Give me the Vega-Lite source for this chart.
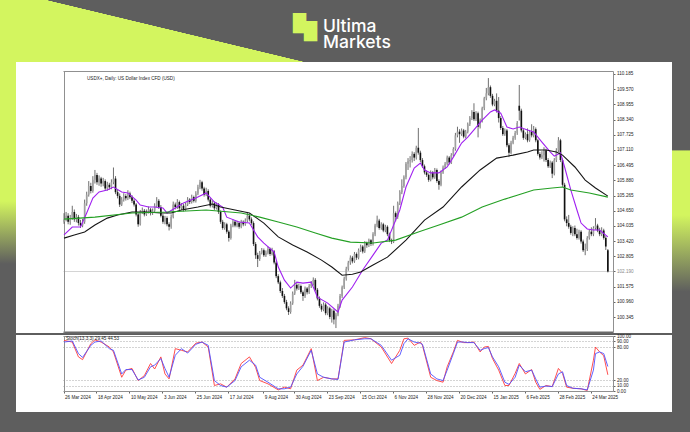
{
"$schema": "https://vega.github.io/schema/vega-lite/v6.json",
"background": "#5e5e5e",
"padding": {"left": 0, "top": 0, "right": 0, "bottom": 22},
"spacing": 0,
"config": {"view": {"stroke": null}, "concat": {"spacing": 0}, "axis": {"labelFont": "Liberation Sans", "title": null}, "title": {"font": "Liberation Sans"}},
"datasets": {
"candles": [
{"d":"2024-03-26","o":104.20,"h":104.55,"l":104.12,"c":104.30},
{"d":"2024-03-27","o":104.30,"h":104.60,"l":104.22,"c":104.45},
{"d":"2024-03-28","o":104.45,"h":104.55,"l":104.10,"c":104.20},
{"d":"2024-04-01","o":104.20,"h":104.48,"l":104.08,"c":104.35},
{"d":"2024-04-02","o":104.35,"h":104.85,"l":104.28,"c":104.60},
{"d":"2024-04-03","o":104.60,"h":104.70,"l":104.20,"c":104.30},
{"d":"2024-04-04","o":104.30,"h":104.52,"l":104.18,"c":104.40},
{"d":"2024-04-05","o":104.40,"h":104.48,"l":104.05,"c":104.15},
{"d":"2024-04-08","o":104.15,"h":104.28,"l":103.95,"c":104.05},
{"d":"2024-04-09","o":104.05,"h":104.32,"l":103.98,"c":104.20},
{"d":"2024-04-10","o":104.20,"h":105.10,"l":104.12,"c":104.95},
{"d":"2024-04-11","o":104.95,"h":105.42,"l":104.85,"c":105.30},
{"d":"2024-04-12","o":105.30,"h":105.85,"l":105.22,"c":105.65},
{"d":"2024-04-15","o":105.65,"h":105.78,"l":105.35,"c":105.45},
{"d":"2024-04-16","o":105.45,"h":106.05,"l":105.38,"c":105.90},
{"d":"2024-04-17","o":105.90,"h":106.30,"l":105.75,"c":106.10},
{"d":"2024-04-18","o":106.10,"h":106.18,"l":105.70,"c":105.80},
{"d":"2024-04-19","o":105.80,"h":106.08,"l":105.66,"c":105.95},
{"d":"2024-04-22","o":105.95,"h":106.02,"l":105.62,"c":105.75},
{"d":"2024-04-23","o":105.75,"h":105.98,"l":105.64,"c":105.85},
{"d":"2024-04-24","o":105.85,"h":105.92,"l":105.45,"c":105.55},
{"d":"2024-04-25","o":105.55,"h":105.82,"l":105.46,"c":105.70},
{"d":"2024-04-26","o":105.70,"h":105.78,"l":105.50,"c":105.60},
{"d":"2024-04-29","o":105.60,"h":105.92,"l":105.52,"c":105.80},
{"d":"2024-04-30","o":105.80,"h":106.40,"l":105.72,"c":105.95},
{"d":"2024-05-01","o":105.95,"h":106.05,"l":105.32,"c":105.40},
{"d":"2024-05-02","o":105.40,"h":105.50,"l":105.15,"c":105.25},
{"d":"2024-05-03","o":105.25,"h":105.35,"l":104.80,"c":104.90},
{"d":"2024-05-06","o":104.90,"h":105.20,"l":104.84,"c":105.10},
{"d":"2024-05-07","o":105.10,"h":105.36,"l":105.02,"c":105.25},
{"d":"2024-05-08","o":105.25,"h":105.32,"l":105.06,"c":105.15},
{"d":"2024-05-09","o":105.15,"h":105.48,"l":105.08,"c":105.35},
{"d":"2024-05-10","o":105.35,"h":105.42,"l":105.12,"c":105.20},
{"d":"2024-05-13","o":105.20,"h":105.28,"l":104.96,"c":105.05},
{"d":"2024-05-14","o":105.05,"h":105.12,"l":104.82,"c":104.90},
{"d":"2024-05-15","o":104.90,"h":104.96,"l":104.42,"c":104.50},
{"d":"2024-05-16","o":104.50,"h":104.58,"l":104.00,"c":104.10},
{"d":"2024-05-17","o":104.10,"h":104.68,"l":104.05,"c":104.60},
{"d":"2024-05-20","o":104.60,"h":104.78,"l":104.52,"c":104.65},
{"d":"2024-05-21","o":104.65,"h":104.72,"l":104.42,"c":104.50},
{"d":"2024-05-22","o":104.50,"h":104.70,"l":104.44,"c":104.60},
{"d":"2024-05-23","o":104.60,"h":104.82,"l":104.54,"c":104.70},
{"d":"2024-05-24","o":104.70,"h":104.76,"l":104.46,"c":104.55},
{"d":"2024-05-27","o":104.55,"h":104.74,"l":104.48,"c":104.65},
{"d":"2024-05-28","o":104.65,"h":104.95,"l":104.58,"c":104.85},
{"d":"2024-05-29","o":104.85,"h":105.20,"l":104.78,"c":105.05},
{"d":"2024-05-30","o":105.05,"h":105.12,"l":104.72,"c":104.80},
{"d":"2024-05-31","o":104.80,"h":104.88,"l":104.38,"c":104.45},
{"d":"2024-06-03","o":104.45,"h":104.52,"l":104.12,"c":104.20},
{"d":"2024-06-04","o":104.20,"h":104.44,"l":104.10,"c":104.35},
{"d":"2024-06-05","o":104.35,"h":104.42,"l":104.02,"c":104.10},
{"d":"2024-06-06","o":104.10,"h":104.18,"l":103.85,"c":104.00},
{"d":"2024-06-07","o":104.00,"h":104.50,"l":103.92,"c":104.40},
{"d":"2024-06-10","o":104.40,"h":105.02,"l":104.34,"c":104.90},
{"d":"2024-06-11","o":104.90,"h":104.98,"l":104.70,"c":104.80},
{"d":"2024-06-12","o":104.80,"h":105.12,"l":104.72,"c":105.00},
{"d":"2024-06-13","o":105.00,"h":105.06,"l":104.66,"c":104.75},
{"d":"2024-06-14","o":104.75,"h":104.96,"l":104.68,"c":104.85},
{"d":"2024-06-17","o":104.85,"h":104.92,"l":104.62,"c":104.70},
{"d":"2024-06-18","o":104.70,"h":104.98,"l":104.64,"c":104.90},
{"d":"2024-06-19","o":104.90,"h":105.20,"l":104.84,"c":105.10},
{"d":"2024-06-20","o":105.10,"h":105.16,"l":104.92,"c":105.00},
{"d":"2024-06-21","o":105.00,"h":105.30,"l":104.94,"c":105.20},
{"d":"2024-06-24","o":105.20,"h":105.26,"l":104.98,"c":105.05},
{"d":"2024-06-25","o":105.05,"h":105.44,"l":104.98,"c":105.35},
{"d":"2024-06-26","o":105.35,"h":105.70,"l":105.28,"c":105.60},
{"d":"2024-06-27","o":105.60,"h":105.90,"l":105.52,"c":105.80},
{"d":"2024-06-28","o":105.80,"h":105.86,"l":105.46,"c":105.55},
{"d":"2024-07-01","o":105.55,"h":105.62,"l":105.22,"c":105.30},
{"d":"2024-07-02","o":105.30,"h":105.58,"l":105.24,"c":105.45},
{"d":"2024-07-03","o":105.45,"h":105.52,"l":105.02,"c":105.10},
{"d":"2024-07-04","o":105.10,"h":105.18,"l":104.78,"c":104.85},
{"d":"2024-07-05","o":104.85,"h":105.06,"l":104.78,"c":104.95},
{"d":"2024-07-08","o":104.95,"h":105.02,"l":104.68,"c":104.75},
{"d":"2024-07-09","o":104.75,"h":104.98,"l":104.70,"c":104.90},
{"d":"2024-07-10","o":104.90,"h":104.96,"l":104.52,"c":104.60},
{"d":"2024-07-11","o":104.60,"h":104.66,"l":104.12,"c":104.20},
{"d":"2024-07-12","o":104.20,"h":104.28,"l":103.88,"c":103.95},
{"d":"2024-07-15","o":103.95,"h":104.18,"l":103.88,"c":104.10},
{"d":"2024-07-16","o":104.10,"h":104.16,"l":103.72,"c":103.80},
{"d":"2024-07-17","o":103.80,"h":103.86,"l":103.40,"c":103.55},
{"d":"2024-07-18","o":103.55,"h":104.12,"l":103.48,"c":104.05},
{"d":"2024-07-19","o":104.05,"h":104.30,"l":103.98,"c":104.20},
{"d":"2024-07-22","o":104.20,"h":104.26,"l":103.98,"c":104.05},
{"d":"2024-07-23","o":104.05,"h":104.24,"l":103.98,"c":104.15},
{"d":"2024-07-24","o":104.15,"h":104.22,"l":103.92,"c":104.00},
{"d":"2024-07-25","o":104.00,"h":104.28,"l":103.94,"c":104.20},
{"d":"2024-07-26","o":104.20,"h":104.26,"l":104.02,"c":104.10},
{"d":"2024-07-29","o":104.10,"h":104.34,"l":104.04,"c":104.25},
{"d":"2024-07-30","o":104.25,"h":104.60,"l":104.18,"c":104.45},
{"d":"2024-07-31","o":104.45,"h":104.52,"l":104.22,"c":104.30},
{"d":"2024-08-01","o":104.30,"h":104.38,"l":104.08,"c":104.15},
{"d":"2024-08-02","o":104.15,"h":104.22,"l":103.22,"c":103.30},
{"d":"2024-08-05","o":103.30,"h":103.38,"l":102.70,"c":102.85},
{"d":"2024-08-06","o":102.85,"h":102.95,"l":102.37,"c":102.70},
{"d":"2024-08-07","o":102.70,"h":103.02,"l":102.62,"c":102.95},
{"d":"2024-08-08","o":102.95,"h":103.14,"l":102.88,"c":103.05},
{"d":"2024-08-09","o":103.05,"h":103.12,"l":102.78,"c":102.85},
{"d":"2024-08-12","o":102.85,"h":103.04,"l":102.78,"c":102.95},
{"d":"2024-08-13","o":102.95,"h":103.20,"l":102.88,"c":103.10},
{"d":"2024-08-14","o":103.10,"h":103.16,"l":102.82,"c":102.90},
{"d":"2024-08-15","o":102.90,"h":103.15,"l":102.84,"c":103.00},
{"d":"2024-08-16","o":103.00,"h":103.06,"l":102.48,"c":102.55},
{"d":"2024-08-19","o":102.55,"h":102.62,"l":101.92,"c":102.00},
{"d":"2024-08-20","o":102.00,"h":102.08,"l":101.68,"c":101.75},
{"d":"2024-08-21","o":101.75,"h":101.82,"l":101.32,"c":101.40},
{"d":"2024-08-22","o":101.40,"h":101.52,"l":101.12,"c":101.20},
{"d":"2024-08-23","o":101.20,"h":101.28,"l":100.88,"c":100.95},
{"d":"2024-08-26","o":100.95,"h":101.04,"l":100.62,"c":100.70},
{"d":"2024-08-27","o":100.70,"h":100.78,"l":100.43,"c":100.55},
{"d":"2024-08-28","o":100.55,"h":100.98,"l":100.48,"c":100.90},
{"d":"2024-08-29","o":100.90,"h":101.38,"l":100.84,"c":101.30},
{"d":"2024-08-30","o":101.30,"h":101.85,"l":101.24,"c":101.65},
{"d":"2024-09-02","o":101.65,"h":101.72,"l":101.42,"c":101.50},
{"d":"2024-09-03","o":101.50,"h":101.70,"l":101.44,"c":101.60},
{"d":"2024-09-04","o":101.60,"h":101.66,"l":101.28,"c":101.35},
{"d":"2024-09-05","o":101.35,"h":101.42,"l":101.00,"c":101.20},
{"d":"2024-09-06","o":101.20,"h":101.58,"l":101.12,"c":101.50},
{"d":"2024-09-09","o":101.50,"h":101.56,"l":101.26,"c":101.35},
{"d":"2024-09-10","o":101.35,"h":101.68,"l":101.28,"c":101.60},
{"d":"2024-09-11","o":101.60,"h":101.80,"l":101.52,"c":101.70},
{"d":"2024-09-12","o":101.70,"h":101.95,"l":101.62,"c":101.85},
{"d":"2024-09-13","o":101.85,"h":101.92,"l":101.38,"c":101.45},
{"d":"2024-09-16","o":101.45,"h":101.52,"l":101.02,"c":101.10},
{"d":"2024-09-17","o":101.10,"h":101.18,"l":100.72,"c":100.80},
{"d":"2024-09-18","o":100.80,"h":100.88,"l":100.56,"c":100.65},
{"d":"2024-09-19","o":100.65,"h":100.94,"l":100.58,"c":100.85},
{"d":"2024-09-20","o":100.85,"h":100.92,"l":100.42,"c":100.50},
{"d":"2024-09-23","o":100.50,"h":100.78,"l":100.42,"c":100.70},
{"d":"2024-09-24","o":100.70,"h":100.76,"l":100.26,"c":100.35},
{"d":"2024-09-25","o":100.35,"h":100.68,"l":100.12,"c":100.60},
{"d":"2024-09-26","o":100.60,"h":100.66,"l":100.05,"c":100.25},
{"d":"2024-09-27","o":100.25,"h":100.52,"l":99.90,"c":100.45},
{"d":"2024-09-30","o":100.45,"h":100.88,"l":100.38,"c":100.80},
{"d":"2024-10-01","o":100.80,"h":101.28,"l":100.72,"c":101.20},
{"d":"2024-10-02","o":101.20,"h":101.62,"l":101.12,"c":101.55},
{"d":"2024-10-03","o":101.55,"h":101.98,"l":101.48,"c":101.90},
{"d":"2024-10-04","o":101.90,"h":102.38,"l":101.82,"c":102.30},
{"d":"2024-10-07","o":102.30,"h":102.62,"l":102.22,"c":102.55},
{"d":"2024-10-08","o":102.55,"h":102.84,"l":102.46,"c":102.75},
{"d":"2024-10-09","o":102.75,"h":102.82,"l":102.52,"c":102.60},
{"d":"2024-10-10","o":102.60,"h":102.98,"l":102.54,"c":102.90},
{"d":"2024-10-11","o":102.90,"h":102.96,"l":102.66,"c":102.75},
{"d":"2024-10-14","o":102.75,"h":103.12,"l":102.68,"c":103.05},
{"d":"2024-10-15","o":103.05,"h":103.28,"l":102.98,"c":103.20},
{"d":"2024-10-16","o":103.20,"h":103.26,"l":102.92,"c":103.00},
{"d":"2024-10-17","o":103.00,"h":103.42,"l":102.94,"c":103.35},
{"d":"2024-10-18","o":103.35,"h":103.40,"l":103.15,"c":103.25},
{"d":"2024-10-21","o":103.25,"h":103.52,"l":103.18,"c":103.45},
{"d":"2024-10-22","o":103.45,"h":103.50,"l":103.22,"c":103.30},
{"d":"2024-10-23","o":103.30,"h":103.78,"l":103.24,"c":103.70},
{"d":"2024-10-24","o":103.70,"h":104.12,"l":103.62,"c":104.05},
{"d":"2024-10-25","o":104.05,"h":104.45,"l":103.98,"c":104.25},
{"d":"2024-10-28","o":104.25,"h":104.32,"l":103.88,"c":103.95},
{"d":"2024-10-29","o":103.95,"h":104.18,"l":103.88,"c":104.10},
{"d":"2024-10-30","o":104.10,"h":104.16,"l":103.78,"c":103.85},
{"d":"2024-10-31","o":103.85,"h":104.08,"l":103.78,"c":104.00},
{"d":"2024-11-01","o":104.00,"h":104.06,"l":103.62,"c":103.70},
{"d":"2024-11-04","o":103.70,"h":103.76,"l":103.38,"c":103.45},
{"d":"2024-11-05","o":103.45,"h":103.52,"l":103.30,"c":103.40},
{"d":"2024-11-06","o":103.40,"h":104.85,"l":103.34,"c":104.55},
{"d":"2024-11-07","o":104.55,"h":104.62,"l":104.22,"c":104.40},
{"d":"2024-11-08","o":104.40,"h":105.02,"l":104.32,"c":104.95},
{"d":"2024-11-11","o":104.95,"h":105.48,"l":104.88,"c":105.40},
{"d":"2024-11-12","o":105.40,"h":105.92,"l":105.32,"c":105.65},
{"d":"2024-11-13","o":105.65,"h":106.08,"l":105.58,"c":106.00},
{"d":"2024-11-14","o":106.00,"h":106.62,"l":105.92,"c":106.55},
{"d":"2024-11-15","o":106.55,"h":106.78,"l":106.30,"c":106.65},
{"d":"2024-11-18","o":106.65,"h":106.86,"l":106.40,"c":106.70},
{"d":"2024-11-19","o":106.70,"h":107.05,"l":106.60,"c":106.95},
{"d":"2024-11-20","o":106.95,"h":107.02,"l":106.66,"c":106.80},
{"d":"2024-11-21","o":106.80,"h":107.28,"l":106.72,"c":107.20},
{"d":"2024-11-22","o":107.20,"h":108.00,"l":106.92,"c":107.00},
{"d":"2024-11-25","o":107.00,"h":107.08,"l":106.62,"c":106.70},
{"d":"2024-11-26","o":106.70,"h":106.78,"l":106.38,"c":106.45},
{"d":"2024-11-27","o":106.45,"h":106.52,"l":106.12,"c":106.20},
{"d":"2024-11-28","o":106.20,"h":106.28,"l":106.02,"c":106.10},
{"d":"2024-11-29","o":106.10,"h":106.16,"l":105.82,"c":105.90},
{"d":"2024-12-02","o":105.90,"h":106.28,"l":105.84,"c":106.20},
{"d":"2024-12-03","o":106.20,"h":106.26,"l":105.92,"c":106.00},
{"d":"2024-12-04","o":106.00,"h":106.38,"l":105.94,"c":106.30},
{"d":"2024-12-05","o":106.30,"h":106.36,"l":105.78,"c":105.85},
{"d":"2024-12-06","o":105.85,"h":105.92,"l":105.50,"c":105.70},
{"d":"2024-12-09","o":105.70,"h":106.28,"l":105.64,"c":106.20},
{"d":"2024-12-10","o":106.20,"h":106.48,"l":106.14,"c":106.40},
{"d":"2024-12-11","o":106.40,"h":106.62,"l":106.34,"c":106.55},
{"d":"2024-12-12","o":106.55,"h":106.88,"l":106.48,"c":106.80},
{"d":"2024-12-13","o":106.80,"h":106.86,"l":106.52,"c":106.60},
{"d":"2024-12-16","o":106.60,"h":106.98,"l":106.54,"c":106.90},
{"d":"2024-12-17","o":106.90,"h":107.22,"l":106.84,"c":107.15},
{"d":"2024-12-18","o":107.15,"h":107.80,"l":107.08,"c":107.70},
{"d":"2024-12-19","o":107.70,"h":108.05,"l":107.62,"c":107.85},
{"d":"2024-12-20","o":107.85,"h":107.95,"l":107.40,"c":107.75},
{"d":"2024-12-23","o":107.75,"h":107.98,"l":107.68,"c":107.90},
{"d":"2024-12-24","o":107.90,"h":107.96,"l":107.58,"c":107.65},
{"d":"2024-12-26","o":107.65,"h":107.92,"l":107.58,"c":107.85},
{"d":"2024-12-27","o":107.85,"h":108.22,"l":107.78,"c":108.15},
{"d":"2024-12-30","o":108.15,"h":108.48,"l":108.08,"c":108.40},
{"d":"2024-12-31","o":108.40,"h":108.72,"l":108.32,"c":108.65},
{"d":"2025-01-02","o":108.65,"h":109.00,"l":108.28,"c":108.35},
{"d":"2025-01-03","o":108.35,"h":108.68,"l":108.28,"c":108.60},
{"d":"2025-01-06","o":108.60,"h":108.66,"l":107.62,"c":108.05},
{"d":"2025-01-07","o":108.05,"h":108.38,"l":107.98,"c":108.30},
{"d":"2025-01-08","o":108.30,"h":108.86,"l":108.22,"c":108.80},
{"d":"2025-01-09","o":108.80,"h":109.26,"l":108.72,"c":109.20},
{"d":"2025-01-10","o":109.20,"h":109.62,"l":109.12,"c":109.40},
{"d":"2025-01-13","o":109.40,"h":110.02,"l":109.32,"c":109.65},
{"d":"2025-01-14","o":109.65,"h":109.72,"l":109.22,"c":109.30},
{"d":"2025-01-15","o":109.30,"h":109.38,"l":108.88,"c":108.95},
{"d":"2025-01-16","o":108.95,"h":109.18,"l":108.88,"c":109.10},
{"d":"2025-01-17","o":109.10,"h":109.40,"l":108.62,"c":108.70},
{"d":"2025-01-20","o":108.70,"h":109.25,"l":108.22,"c":108.40},
{"d":"2025-01-21","o":108.40,"h":108.48,"l":107.92,"c":108.00},
{"d":"2025-01-22","o":108.00,"h":108.08,"l":107.68,"c":107.75},
{"d":"2025-01-23","o":107.75,"h":107.98,"l":107.68,"c":107.90},
{"d":"2025-01-24","o":107.90,"h":107.96,"l":107.22,"c":107.30},
{"d":"2025-01-27","o":107.30,"h":107.38,"l":106.82,"c":107.00},
{"d":"2025-01-28","o":107.00,"h":107.48,"l":106.94,"c":107.40},
{"d":"2025-01-29","o":107.40,"h":107.68,"l":107.34,"c":107.60},
{"d":"2025-01-30","o":107.60,"h":107.88,"l":107.52,"c":107.80},
{"d":"2025-01-31","o":107.80,"h":108.28,"l":107.72,"c":108.20},
{"d":"2025-02-03","o":108.90,"h":109.74,"l":108.30,"c":108.70},
{"d":"2025-02-04","o":108.70,"h":108.78,"l":107.82,"c":107.90},
{"d":"2025-02-05","o":107.90,"h":107.96,"l":107.52,"c":107.60},
{"d":"2025-02-06","o":107.60,"h":107.82,"l":107.54,"c":107.75},
{"d":"2025-02-07","o":107.75,"h":107.98,"l":107.42,"c":107.50},
{"d":"2025-02-10","o":107.50,"h":107.92,"l":107.44,"c":107.85},
{"d":"2025-02-11","o":107.85,"h":108.15,"l":107.62,"c":107.70},
{"d":"2025-02-12","o":107.70,"h":108.08,"l":107.62,"c":107.95},
{"d":"2025-02-13","o":107.95,"h":108.02,"l":107.42,"c":107.50},
{"d":"2025-02-14","o":107.50,"h":107.56,"l":106.88,"c":106.95},
{"d":"2025-02-17","o":106.95,"h":107.02,"l":106.72,"c":106.80},
{"d":"2025-02-18","o":106.80,"h":107.06,"l":106.74,"c":106.90},
{"d":"2025-02-19","o":106.90,"h":107.22,"l":106.64,"c":107.10},
{"d":"2025-02-20","o":107.10,"h":107.16,"l":106.62,"c":106.70},
{"d":"2025-02-21","o":106.70,"h":106.78,"l":106.38,"c":106.45},
{"d":"2025-02-24","o":106.45,"h":106.68,"l":106.38,"c":106.60},
{"d":"2025-02-25","o":106.60,"h":106.66,"l":105.97,"c":106.15},
{"d":"2025-02-26","o":106.15,"h":106.78,"l":106.08,"c":106.70},
{"d":"2025-02-27","o":106.70,"h":107.18,"l":106.62,"c":107.10},
{"d":"2025-02-28","o":107.10,"h":107.63,"l":107.02,"c":107.50},
{"d":"2025-03-03","o":107.50,"h":107.56,"l":106.62,"c":106.70},
{"d":"2025-03-04","o":106.70,"h":106.76,"l":105.62,"c":105.70},
{"d":"2025-03-05","o":105.70,"h":105.78,"l":104.22,"c":104.30},
{"d":"2025-03-06","o":104.30,"h":104.42,"l":104.02,"c":104.15},
{"d":"2025-03-07","o":104.15,"h":104.48,"l":103.92,"c":104.00},
{"d":"2025-03-10","o":104.00,"h":104.08,"l":103.68,"c":103.75},
{"d":"2025-03-11","o":103.75,"h":104.02,"l":103.62,"c":103.95},
{"d":"2025-03-12","o":103.95,"h":104.05,"l":103.62,"c":103.70},
{"d":"2025-03-13","o":103.70,"h":103.92,"l":103.48,"c":103.55},
{"d":"2025-03-14","o":103.55,"h":103.88,"l":103.48,"c":103.80},
{"d":"2025-03-17","o":103.80,"h":103.86,"l":103.32,"c":103.40},
{"d":"2025-03-18","o":103.40,"h":103.48,"l":102.98,"c":103.05},
{"d":"2025-03-19","o":103.05,"h":103.32,"l":102.85,"c":103.10},
{"d":"2025-03-20","o":103.10,"h":103.62,"l":103.02,"c":103.55},
{"d":"2025-03-21","o":103.55,"h":103.88,"l":103.48,"c":103.80},
{"d":"2025-03-24","o":103.80,"h":103.98,"l":103.62,"c":103.70},
{"d":"2025-03-25","o":103.70,"h":104.02,"l":103.62,"c":103.95},
{"d":"2025-03-26","o":103.95,"h":104.35,"l":103.88,"c":104.05},
{"d":"2025-03-27","o":104.05,"h":104.12,"l":103.78,"c":103.85},
{"d":"2025-03-28","o":103.85,"h":103.96,"l":103.62,"c":103.70},
{"d":"2025-03-31","o":103.70,"h":103.98,"l":103.62,"c":103.85},
{"d":"2025-04-01","o":103.85,"h":103.92,"l":103.48,"c":103.55},
{"d":"2025-04-02","o":103.55,"h":103.62,"l":103.06,"c":103.20},
{"d":"2025-04-03","o":103.05,"h":103.10,"l":102.15,"c":102.19}
],
"ma": [
{"d":"2024-03-26","s":"a","v":103.67},{"d":"2024-04-02","s":"a","v":103.99},{"d":"2024-04-08","s":"a","v":103.99},{"d":"2024-04-11","s":"a","v":104.56},{"d":"2024-04-16","s":"a","v":105.16},{"d":"2024-04-19","s":"a","v":105.41},{"d":"2024-04-25","s":"a","v":105.49},{"d":"2024-04-30","s":"a","v":105.61},{"d":"2024-05-06","s":"a","v":105.41},{"d":"2024-05-09","s":"a","v":105.37},{"d":"2024-05-15","s":"a","v":105.08},{"d":"2024-05-17","s":"a","v":104.88},{"d":"2024-05-23","s":"a","v":104.80},{"d":"2024-05-28","s":"a","v":104.80},{"d":"2024-06-03","s":"a","v":104.76},{"d":"2024-06-05","s":"a","v":104.56},{"d":"2024-06-11","s":"a","v":104.76},{"d":"2024-06-17","s":"a","v":104.96},{"d":"2024-06-25","s":"a","v":105.16},{"d":"2024-07-02","s":"a","v":105.37},{"d":"2024-07-08","s":"a","v":105.00},{"d":"2024-07-12","s":"a","v":104.80},{"d":"2024-07-16","s":"a","v":104.39},{"d":"2024-07-24","s":"a","v":104.19},{"d":"2024-07-31","s":"a","v":104.15},{"d":"2024-08-06","s":"a","v":103.59},{"d":"2024-08-09","s":"a","v":103.34},{"d":"2024-08-16","s":"a","v":102.98},{"d":"2024-08-20","s":"a","v":102.37},{"d":"2024-08-23","s":"a","v":101.84},{"d":"2024-08-28","s":"a","v":101.52},{"d":"2024-09-02","s":"a","v":101.76},{"d":"2024-09-05","s":"a","v":101.72},{"d":"2024-09-11","s":"a","v":101.76},{"d":"2024-09-16","s":"a","v":101.15},{"d":"2024-09-23","s":"a","v":100.91},{"d":"2024-09-30","s":"a","v":100.55},{"d":"2024-10-02","s":"a","v":101.03},{"d":"2024-10-09","s":"a","v":101.56},{"d":"2024-10-16","s":"a","v":102.25},{"d":"2024-10-23","s":"a","v":102.85},{"d":"2024-10-29","s":"a","v":103.34},{"d":"2024-11-01","s":"a","v":103.46},{"d":"2024-11-11","s":"a","v":104.68},{"d":"2024-11-14","s":"a","v":105.61},{"d":"2024-11-20","s":"a","v":106.38},{"d":"2024-11-25","s":"a","v":106.58},{"d":"2024-11-27","s":"a","v":106.30},{"d":"2024-12-02","s":"a","v":106.18},{"d":"2024-12-06","s":"a","v":106.18},{"d":"2024-12-12","s":"a","v":106.42},{"d":"2024-12-17","s":"a","v":106.82},{"d":"2024-12-23","s":"a","v":107.39},{"d":"2024-12-27","s":"a","v":107.63},{"d":"2025-01-02","s":"a","v":107.92},{"d":"2025-01-08","s":"a","v":108.32},{"d":"2025-01-14","s":"a","v":108.65},{"d":"2025-01-16","s":"a","v":108.73},{"d":"2025-01-21","s":"a","v":108.60},{"d":"2025-01-24","s":"a","v":108.04},{"d":"2025-01-29","s":"a","v":107.96},{"d":"2025-02-03","s":"a","v":108.04},{"d":"2025-02-07","s":"a","v":107.92},{"d":"2025-02-12","s":"a","v":107.84},{"d":"2025-02-18","s":"a","v":107.43},{"d":"2025-02-24","s":"a","v":107.03},{"d":"2025-02-26","s":"a","v":106.86},{"d":"2025-03-03","s":"a","v":106.99},{"d":"2025-03-05","s":"a","v":106.42},{"d":"2025-03-10","s":"a","v":105.49},{"d":"2025-03-13","s":"a","v":104.68},{"d":"2025-03-17","s":"a","v":104.15},{"d":"2025-03-20","s":"a","v":103.91},{"d":"2025-03-25","s":"a","v":103.87},{"d":"2025-03-28","s":"a","v":103.87},{"d":"2025-04-03","s":"a","v":103.59},
{"d":"2024-03-26","s":"b","v":103.54},{"d":"2024-04-03","s":"b","v":103.67},{"d":"2024-04-10","s":"b","v":103.79},{"d":"2024-04-17","s":"b","v":104.07},{"d":"2024-04-25","s":"b","v":104.35},{"d":"2024-05-02","s":"b","v":104.48},{"d":"2024-05-13","s":"b","v":104.60},{"d":"2024-05-22","s":"b","v":104.60},{"d":"2024-05-31","s":"b","v":104.56},{"d":"2024-06-07","s":"b","v":104.56},{"d":"2024-06-14","s":"b","v":104.68},{"d":"2024-06-26","s":"b","v":104.80},{"d":"2024-07-05","s":"b","v":104.92},{"d":"2024-07-11","s":"b","v":104.80},{"d":"2024-07-22","s":"b","v":104.68},{"d":"2024-07-31","s":"b","v":104.56},{"d":"2024-08-09","s":"b","v":104.15},{"d":"2024-08-20","s":"b","v":103.59},{"d":"2024-08-29","s":"b","v":103.26},{"d":"2024-09-09","s":"b","v":102.98},{"d":"2024-09-18","s":"b","v":102.65},{"d":"2024-09-25","s":"b","v":102.37},{"d":"2024-10-02","s":"b","v":102.04},{"d":"2024-10-09","s":"b","v":102.08},{"d":"2024-10-15","s":"b","v":102.17},{"d":"2024-10-23","s":"b","v":102.45},{"d":"2024-11-01","s":"b","v":102.77},{"d":"2024-11-14","s":"b","v":103.46},{"d":"2024-11-27","s":"b","v":104.27},{"d":"2024-12-10","s":"b","v":104.80},{"d":"2024-12-23","s":"b","v":105.61},{"d":"2025-01-07","s":"b","v":106.30},{"d":"2025-01-17","s":"b","v":106.78},{"d":"2025-01-29","s":"b","v":106.90},{"d":"2025-02-07","s":"b","v":107.03},{"d":"2025-02-12","s":"b","v":107.11},{"d":"2025-02-20","s":"b","v":107.11},{"d":"2025-02-27","s":"b","v":107.03},{"d":"2025-03-04","s":"b","v":106.90},{"d":"2025-03-12","s":"b","v":106.42},{"d":"2025-03-19","s":"b","v":105.89},{"d":"2025-03-26","s":"b","v":105.57},{"d":"2025-04-03","s":"b","v":105.24},
{"d":"2024-03-26","s":"c","v":104.31},{"d":"2024-04-17","s":"c","v":104.39},{"d":"2024-05-13","s":"c","v":104.56},{"d":"2024-06-05","s":"c","v":104.60},{"d":"2024-07-02","s":"c","v":104.68},{"d":"2024-07-25","s":"c","v":104.56},{"d":"2024-08-07","s":"c","v":104.39},{"d":"2024-08-20","s":"c","v":104.19},{"d":"2024-09-02","s":"c","v":103.99},{"d":"2024-09-13","s":"c","v":103.75},{"d":"2024-09-25","s":"c","v":103.54},{"d":"2024-10-08","s":"c","v":103.38},{"d":"2024-10-23","s":"c","v":103.34},{"d":"2024-11-07","s":"c","v":103.46},{"d":"2024-11-22","s":"c","v":103.79},{"d":"2024-12-06","s":"c","v":104.07},{"d":"2024-12-23","s":"c","v":104.39},{"d":"2025-01-08","s":"c","v":104.80},{"d":"2025-01-23","s":"c","v":105.12},{"d":"2025-01-31","s":"c","v":105.28},{"d":"2025-02-12","s":"c","v":105.49},{"d":"2025-02-25","s":"c","v":105.57},{"d":"2025-03-04","s":"c","v":105.61},{"d":"2025-03-10","s":"c","v":105.49},{"d":"2025-03-21","s":"c","v":105.37},{"d":"2025-04-03","s":"c","v":105.20}
],
"st": [
{"d":"2024-03-26","K":92,"D":89},{"d":"2024-04-02","K":89,"D":91},{"d":"2024-04-05","K":62,"D":68},{"d":"2024-04-09","K":57,"D":61},{"d":"2024-04-15","K":86,"D":83},{"d":"2024-04-17","K":93,"D":89},{"d":"2024-04-22","K":89,"D":91},{"d":"2024-04-26","K":80,"D":77},{"d":"2024-04-30","K":71,"D":74},{"d":"2024-05-06","K":25,"D":31},{"d":"2024-05-08","K":38,"D":39},{"d":"2024-05-13","K":41,"D":39},{"d":"2024-05-16","K":19,"D":20},{"d":"2024-05-21","K":28,"D":25},{"d":"2024-05-24","K":50,"D":44},{"d":"2024-05-28","K":40,"D":47},{"d":"2024-05-31","K":62,"D":59},{"d":"2024-06-04","K":31,"D":41},{"d":"2024-06-06","K":22,"D":25},{"d":"2024-06-11","K":77,"D":65},{"d":"2024-06-14","K":74,"D":77},{"d":"2024-06-19","K":71,"D":69},{"d":"2024-06-25","K":87,"D":85},{"d":"2024-06-28","K":89,"D":89},{"d":"2024-07-03","K":80,"D":83},{"d":"2024-07-08","K":10,"D":19},{"d":"2024-07-11","K":13,"D":10},{"d":"2024-07-16","K":7,"D":7},{"d":"2024-07-22","K":22,"D":19},{"d":"2024-07-25","K":50,"D":44},{"d":"2024-07-31","K":62,"D":56},{"d":"2024-08-05","K":43,"D":47},{"d":"2024-08-07","K":19,"D":25},{"d":"2024-08-13","K":13,"D":16},{"d":"2024-08-20","K":2,"D":4},{"d":"2024-08-23","K":7,"D":4},{"d":"2024-08-28","K":4,"D":7},{"d":"2024-09-02","K":38,"D":31},{"d":"2024-09-05","K":47,"D":45},{"d":"2024-09-11","K":77,"D":74},{"d":"2024-09-16","K":19,"D":31},{"d":"2024-09-19","K":25,"D":25},{"d":"2024-09-25","K":22,"D":22},{"d":"2024-09-30","K":22,"D":21},{"d":"2024-10-03","K":92,"D":89},{"d":"2024-10-10","K":93,"D":93},{"d":"2024-10-17","K":97,"D":95},{"d":"2024-10-22","K":95,"D":95},{"d":"2024-10-29","K":80,"D":83},{"d":"2024-11-05","K":50,"D":56},{"d":"2024-11-11","K":74,"D":65},{"d":"2024-11-13","K":95,"D":86},{"d":"2024-11-15","K":96,"D":95},{"d":"2024-11-20","K":83,"D":89},{"d":"2024-11-25","K":89,"D":87},{"d":"2024-11-26","K":83,"D":85},{"d":"2024-12-02","K":25,"D":31},{"d":"2024-12-05","K":19,"D":22},{"d":"2024-12-10","K":16,"D":19},{"d":"2024-12-12","K":44,"D":38},{"d":"2024-12-17","K":71,"D":68},{"d":"2024-12-19","K":92,"D":89},{"d":"2024-12-24","K":88,"D":89},{"d":"2024-12-27","K":88,"D":88},{"d":"2025-01-02","K":89,"D":88},{"d":"2025-01-07","K":71,"D":74},{"d":"2025-01-09","K":80,"D":77},{"d":"2025-01-13","K":81,"D":79},{"d":"2025-01-15","K":59,"D":62},{"d":"2025-01-20","K":38,"D":44},{"d":"2025-01-23","K":10,"D":16},{"d":"2025-01-27","K":10,"D":12},{"d":"2025-01-30","K":32,"D":25},{"d":"2025-02-03","K":50,"D":47},{"d":"2025-02-06","K":31,"D":35},{"d":"2025-02-11","K":39,"D":38},{"d":"2025-02-13","K":16,"D":22},{"d":"2025-02-17","K":3,"D":7},{"d":"2025-02-20","K":10,"D":9},{"d":"2025-02-25","K":8,"D":8},{"d":"2025-02-28","K":41,"D":31},{"d":"2025-03-04","K":32,"D":35},{"d":"2025-03-06","K":7,"D":10},{"d":"2025-03-11","K":5,"D":5},{"d":"2025-03-17","K":4,"D":4},{"d":"2025-03-20","K":1,"D":2},{"d":"2025-03-25","K":56,"D":38},{"d":"2025-03-26","K":80,"D":68},{"d":"2025-03-28","K":71,"D":71},{"d":"2025-04-01","K":64,"D":68},{"d":"2025-04-03","K":29.45,"D":44.53}
]
},
"vconcat": [
{
"width": 690, "height": 62,
"view": {"stroke": null, "fill": {"gradient": "linear", "x1": 0, "y1": 1, "x2": 1, "y2": 0.626, "stops": [{"offset": 0, "color": "#d3f55f"}, {"offset": 0.386, "color": "#d3f55f"}, {"offset": 0.388, "color": "#5e5e5e"}, {"offset": 1, "color": "#5e5e5e"}]}},
"data": {"values": [{}]},
"layer": [
{"mark": {"type": "text", "text": ["Ultima", "Markets"], "lineHeight": 16.5, "align": "left", "baseline": "alphabetic", "dx": -22, "dy": 0.5, "font": "Inter", "fontSize": 17.5, "fontWeight": 500, "color": "#ffffff"}},
{"mark": {"type": "text", "text": "█", "align": "left", "baseline": "top", "dx": -52, "dy": -15, "font": "DejaVu Sans", "fontSize": 17, "color": "#d3f55f"}},
{"mark": {"type": "text", "text": "█", "align": "left", "baseline": "top", "dx": -41, "dy": -7, "font": "DejaVu Sans", "fontSize": 17, "color": "#d3f55f"}}
]
},
{
"spacing": 0,
"hconcat": [
{
"width": 16, "height": 348,
"view": {"stroke": null, "fill": {"gradient": "linear", "x1": 0, "y1": 0, "x2": 0, "y2": 1, "stops": [{"offset": 0, "color": "#d3f55f"}, {"offset": 0.4, "color": "#d3f55f"}, {"offset": 0.58, "color": "#5e5e5e"}, {"offset": 1, "color": "#5e5e5e"}]}},
"data": {"values": [{}]},
"mark": {"type": "text", "text": ""}
},
{
"spacing": 0,
"vconcat": [
{
"width": 656, "height": 271,
"view": {"fill": "#ffffff", "stroke": null},
"title": {"text": "USDX+, Daily: US Dollar Index CFD (USD)", "anchor": "start", "frame": "group", "orient": "top", "offset": -23, "dx": 71, "fontSize": 4.6, "fontWeight": "normal", "color": "#222222", "baseline": "alphabetic"},
"resolve": {"axis": {"x": "independent", "y": "independent"}},
"layer": [
{
"data": {"name": "candles"},
"mark": {"type": "rule", "color": "#4a4a4a", "strokeWidth": 0.8},
"encoding": {
"x": {"field": "d", "type": "ordinal", "scale": {"type": "band", "range": [47, 597], "paddingInner": 0, "paddingOuter": 12.1, "align": 0}, "axis": {"orient": "top", "offset": -9, "labels": false, "ticks": false, "grid": false, "domainColor": "#909090", "title": null}},
"y": {"field": "l", "type": "quantitative", "scale": {"domain": [99.74, 110.306], "range": [270, 9], "nice": false, "zero": false}, "axis": {"orient": "left", "offset": -48, "labels": false, "ticks": false, "grid": true, "values": [102.19], "gridColor": "#d4d4d4", "domainColor": "#909090", "title": null}},
"y2": {"field": "h"}
}
},
{
"data": {"name": "candles"},
"mark": {"type": "bar", "width": {"band": 0.8}},
"encoding": {
"x": {"field": "d", "type": "ordinal", "scale": {"type": "band", "range": [47, 597], "paddingInner": 0, "paddingOuter": 12.1, "align": 0}, "axis": {"orient": "bottom", "offset": -1, "labels": false, "ticks": false, "grid": false, "domainColor": "#6a6a6a", "domainWidth": 2, "title": null}},
"y": {"field": "o", "type": "quantitative", "scale": {"domain": [99.74, 110.306], "range": [270, 9], "nice": false, "zero": false}, "axis": {"orient": "right", "offset": -59, "values": [100.345, 100.96, 101.575, 102.19, 102.805, 103.42, 104.035, 104.65, 105.265, 105.88, 106.495, 107.11, 107.725, 108.34, 108.955, 109.57, 110.185], "format": ".3f", "labelFontSize": 4.6, "labelColor": {"condition": {"test": "datum.value === 102.19", "value": "#888888"}, "value": "#222222"}, "tickSize": 2, "tickColor": "#666666", "domainColor": "#909090", "labelPadding": 1.5, "labelOverlap": false, "grid": false, "title": null}},
"y2": {"field": "c"},
"color": {"condition": {"test": "datum.c < datum.o", "value": "#111111"}, "value": "#a0a0a0"}
}
},
{
"data": {"name": "ma"},
"mark": {"type": "line", "strokeWidth": 1.1},
"encoding": {
"x": {"field": "d", "type": "ordinal", "scale": {"type": "band", "range": [47, 597], "paddingInner": 0, "paddingOuter": 12.1, "align": 0}, "axis": null},
"y": {"field": "v", "type": "quantitative", "scale": {"domain": [99.74, 110.306], "range": [270, 9], "nice": false, "zero": false}, "axis": null},
"color": {"field": "s", "type": "nominal", "scale": {"domain": ["a", "b", "c"], "range": ["#a020f0", "#151515", "#24a024"]}, "legend": null}
}
}
]
},
{
"width": 656, "height": 77,
"view": {"fill": "#ffffff", "stroke": null},
"title": {"text": "Stoch(13,3,3) 29.45 44.53", "anchor": "start", "frame": "group", "orient": "top", "offset": -12, "dx": 50, "fontSize": 4.6, "fontWeight": "normal", "color": "#222222", "baseline": "alphabetic"},
"resolve": {"axis": {"x": "independent", "y": "independent"}},
"layer": [
{
"data": {"name": "candles"},
"mark": {"type": "point", "opacity": 0},
"encoding": {
"x": {"field": "d", "type": "ordinal", "scale": {"type": "band", "range": [47, 597], "paddingInner": 0, "paddingOuter": 12.1, "align": 0}, "axis": null}
}
},
{
"data": {"name": "st"},
"mark": {"type": "line", "color": "#ff3b3b", "strokeWidth": 0.9},
"encoding": {
"x": {"field": "d", "type": "ordinal", "scale": {"type": "band", "range": [47, 597], "paddingInner": 0, "paddingOuter": 12.1, "align": 0}, "axis": {"orient": "bottom", "offset": -21, "values": ["2024-03-26", "2024-04-18", "2024-05-10", "2024-06-03", "2024-06-25", "2024-07-17", "2024-08-09", "2024-08-30", "2024-09-23", "2024-10-15", "2024-11-06", "2024-11-28", "2024-12-20", "2025-01-15", "2025-02-06", "2025-02-28", "2025-03-24"], "labelExpr": "utcFormat(toDate(datum.value), '%-d %b %Y')", "labelAngle": 0, "labelAlign": "left", "labelBaseline": "top", "labelOffset": 1, "labelFontSize": 4.6, "labelColor": "#222222", "tickSize": 2, "tickColor": "#666666", "domainColor": "#909090", "labelPadding": 1.5, "labelOverlap": false, "grid": false, "title": null}},
"y": {"field": "K", "type": "quantitative", "scale": {"domain": [0, 100], "range": [56, 1], "nice": false, "zero": false}, "axis": {"orient": "right", "offset": -59, "values": [0, 10, 20, 80, 90, 100], "format": ".2f", "labelFontSize": 4.6, "labelColor": "#222222", "tickSize": 2, "tickColor": "#666666", "domainColor": "#909090", "labelPadding": 1.5, "labelOverlap": false, "grid": false, "title": null}}
}
},
{
"data": {"name": "st"},
"mark": {"type": "line", "color": "#5050ff", "strokeWidth": 0.9},
"encoding": {
"x": {"field": "d", "type": "ordinal", "scale": {"type": "band", "range": [47, 597], "paddingInner": 0, "paddingOuter": 12.1, "align": 0}, "axis": {"orient": "top", "offset": -1, "labels": false, "ticks": false, "grid": false, "domainColor": "#909090", "title": null}},
"y": {"field": "D", "type": "quantitative", "scale": {"domain": [0, 100], "range": [56, 1], "nice": false, "zero": false}, "axis": {"orient": "left", "offset": -48, "labels": false, "ticks": false, "grid": true, "values": [10, 20, 80, 90], "gridDash": [1, 2], "gridColor": "#a8a8a8", "domainColor": "#909090", "title": null}}
}
}
]
}
]
},
{
"width": 18, "height": 348,
"view": {"stroke": null, "fill": {"gradient": "linear", "x1": 0, "y1": 0, "x2": 0, "y2": 1, "stops": [{"offset": 0, "color": "#5e5e5e"}, {"offset": 0.252, "color": "#5e5e5e"}, {"offset": 0.256, "color": "#d3f55f"}, {"offset": 0.44, "color": "#d3f55f"}, {"offset": 0.66, "color": "#5e5e5e"}, {"offset": 1, "color": "#5e5e5e"}]}},
"data": {"values": [{}]},
"mark": {"type": "text", "text": ""}
}
]
}
]
}
